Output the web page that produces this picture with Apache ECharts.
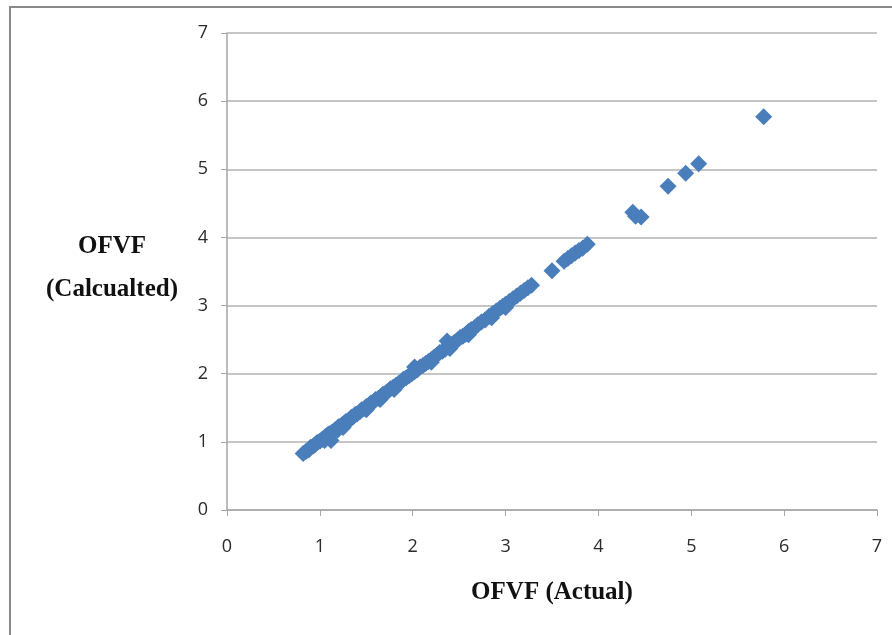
<!DOCTYPE html>
<html>
<head>
<meta charset="utf-8">
<script src="https://cdn.jsdelivr.net/npm/echarts@6/dist/echarts.min.js"></script>
<style>
html,body{margin:0;padding:0;background:#fff;}
#frame{position:absolute;left:9px;top:6px;width:1000px;height:1000px;border:2px solid #8a8a8a;box-sizing:border-box;}
#chart{position:absolute;left:0;top:0;width:892px;height:635px;}
</style>
</head>
<body>
<div id="frame"></div>
<div id="chart"></div>
<script>
// OFVF (Actual) values
const xActual = [
0.82,0.85,0.88,0.90,0.93,0.95,0.97,1.00,1.02,1.04,1.06,1.08,1.12,1.10,1.13,1.15,1.17,1.19,1.20,1.22,
1.24,1.26,1.28,1.30,1.32,1.34,1.36,1.38,1.40,1.43,1.45,1.48,1.50,1.53,1.55,1.58,1.60,1.63,1.66,1.68,
1.71,1.74,1.76,1.79,1.82,1.85,1.88,1.90,1.93,1.96,1.99,2.02,2.02,2.05,2.08,2.11,2.14,2.17,2.20,2.23,
2.26,2.29,2.32,2.35,2.37,2.39,2.42,2.45,2.48,2.51,2.54,2.57,2.60,2.63,2.67,2.70,2.74,2.78,2.82,2.86,
2.90,2.94,2.97,3.00,3.04,3.08,3.12,3.16,3.20,3.24,3.28,3.50,3.63,3.67,3.71,3.75,3.79,3.83,3.88,
4.37,4.40,4.46,4.75,4.94,5.08,5.78,
1.25,1.50,1.80,2.20,2.60,3.00,1.05,1.65,2.40,2.85
];
// OFVF (Calculated) values
const yCalc = [
0.83,0.86,0.88,0.92,0.94,0.96,0.99,1.01,1.03,1.05,1.08,1.10,1.02,1.12,1.14,1.16,1.18,1.17,1.22,1.23,
1.25,1.27,1.30,1.29,1.33,1.36,1.37,1.40,1.41,1.44,1.47,1.49,1.52,1.54,1.57,1.59,1.62,1.64,1.67,1.70,
1.72,1.75,1.78,1.80,1.83,1.86,1.89,1.92,1.94,1.97,2.00,2.10,2.03,2.06,2.10,2.12,2.15,2.18,2.21,2.24,
2.27,2.31,2.33,2.36,2.48,2.41,2.43,2.46,2.49,2.53,2.55,2.58,2.62,2.65,2.68,2.72,2.76,2.79,2.84,2.88,
2.92,2.96,2.99,3.02,3.06,3.10,3.14,3.18,3.22,3.26,3.30,3.51,3.65,3.69,3.73,3.77,3.81,3.84,3.90,
4.37,4.31,4.30,4.75,4.94,5.08,5.77,
1.21,1.47,1.77,2.17,2.57,2.97,1.02,1.62,2.37,2.82
];
const axisTicks = [0,1,2,3,4,5,6,7];

const points = xActual.map((x,i)=>[x,yCalc[i]]);
const chart = echarts.init(document.getElementById('chart'));
const labelStyle = {color:'#2b2b2b', fontFamily:'Open Sans', fontSize:18};
chart.setOption({
  animation:false,
  grid:{left:227,right:15,top:33,bottom:125,containLabel:false},
  xAxis:{
    type:'value',min:axisTicks[0],max:axisTicks[axisTicks.length-1],interval:1,
    axisLine:{show:true,lineStyle:{color:'#a6a6a6',width:1.5}},
    axisTick:{show:true,length:6,lineStyle:{color:'#a6a6a6'}},
    axisLabel:Object.assign({margin:28},labelStyle),
    splitLine:{show:false}
  },
  yAxis:{
    type:'value',min:axisTicks[0],max:axisTicks[axisTicks.length-1],interval:1,
    axisLine:{show:true,lineStyle:{color:'#a6a6a6',width:1.5}},
    axisTick:{show:true,length:6,lineStyle:{color:'#a6a6a6'}},
    axisLabel:Object.assign({margin:19},labelStyle),
    splitLine:{show:true,lineStyle:{color:'#b3b3b3',width:1.5}}
  },
  graphic:[
    {type:'text',x:112,y:247,style:{text:'OFVF',font:'bold 25px "Liberation Serif"',fill:'#111',textAlign:'center',textVerticalAlign:'middle'}},
    {type:'text',x:112,y:290,style:{text:'(Calcualted)',font:'bold 25px "Liberation Serif"',fill:'#111',textAlign:'center',textVerticalAlign:'middle'}},
    {type:'text',x:552,y:593,style:{text:'OFVF (Actual)',font:'bold 25px "Liberation Serif"',fill:'#111',textAlign:'center',textVerticalAlign:'middle'}}
  ],
  series:[{
    type:'scatter',
    data:points,
    symbol:'diamond',
    symbolSize:17,
    itemStyle:{color:'#4a7ebb',opacity:1}
  }]
});
</script>
</body>
</html>
